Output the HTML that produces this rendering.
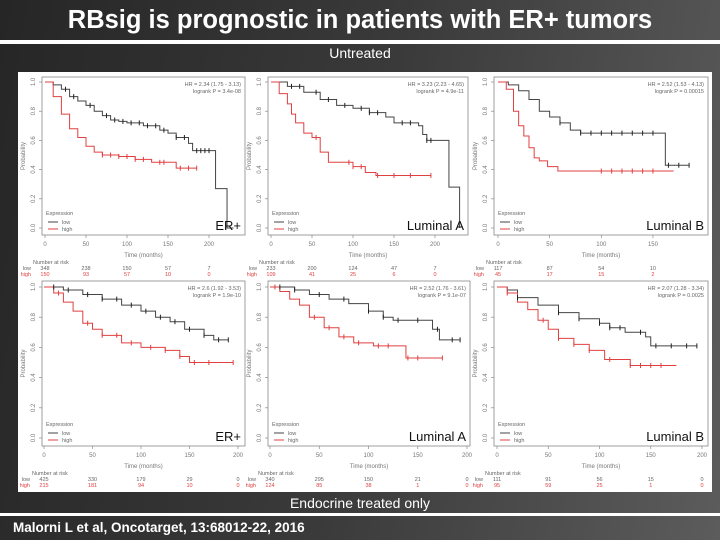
<!DOCTYPE html>
<html><head><meta charset="utf-8"><style>
html,body{margin:0;padding:0;width:720px;height:540px;overflow:hidden}
body{background:linear-gradient(100deg,#262626 0%,#3a3a3a 50%,#5c5c5c 100%);font-family:"Liberation Sans",sans-serif}
svg{position:absolute;left:0;top:0}
</style></head><body>
<svg id="s" width="720" height="540" xmlns="http://www.w3.org/2000/svg">
<text x="360" y="28" text-anchor="middle" fill="#fff" font-size="25.5" font-weight="bold">RBsig is prognostic in patients with ER+ tumors</text>
<rect x="0" y="40" width="720" height="4" fill="#fff"/>
<text x="360" y="58" text-anchor="middle" fill="#fff" font-size="14">Untreated</text>
<rect x="18" y="72" width="694" height="420" fill="#fff"/>
<text x="360" y="508" text-anchor="middle" fill="#fff" font-size="14">Endocrine treated only</text>
<rect x="0" y="513" width="720" height="3" fill="#fff"/>
<text x="13" y="532" fill="#fff" font-size="13.5" font-weight="bold" font-family="Liberation Sans Narrow, Liberation Sans, sans-serif">Malorni L et al, Oncotarget, 13:68012-22, 2016</text>
<g id="plots"></g>
</svg>
<script>
const panelNames=["ER+","Luminal A","Luminal B","ER+","Luminal A","Luminal B"];
const hrText=["HR = 2.34 (1.75 - 3.13)","HR = 3.23 (2.23 - 4.65)","HR = 2.52 (1.53 - 4.13)","HR = 2.6 (1.92 - 3.53)","HR = 2.52 (1.76 - 3.61)","HR = 2.07 (1.28 - 3.34)"];
const pText=["logrank P = 3.4e-08","logrank P = 4.9e-11","logrank P = 0.00015","logrank P = 1.9e-10","logrank P = 9.1e-07","logrank P = 0.0025"];
const xTicks=[[0,50,100,150,200],[0,50,100,150,200],[0,50,100,150],[0,50,100,150,200],[0,50,100,150,200],[0,50,100,150,200]];
const yTicks=[0,0.2,0.4,0.6,0.8,1.0];
const riskLow=[["348","238","150","57","7"],["233","200","124","47","7"],["117","87","54","10"],["425","330","179","29","0"],["340","295","150","21","0"],["111","91","56","15","0"]];
const riskHigh=[["150","93","57","10","0"],["109","41","25","6","0"],["45","17","15","2"],["215","181","94","10","0"],["124","85","38","1","0"],["95","59","25","1","0"]];
const lowT=[[0,10,20,30,40,50,60,70,80,90,100,120,140,150,160,175,180,208,222,230],[0,20,40,60,80,100,120,140,150,180,185,190,217,230],[0,10,20,30,40,50,60,70,80,162,185],[0,20,40,60,80,100,115,130,145,165,175,190],[0,25,40,60,80,100,115,125,165,172,193],[0,10,20,40,60,80,100,110,125,145,150,195]];
const lowS=[[1,0.98,0.95,0.9,0.87,0.84,0.8,0.77,0.74,0.73,0.72,0.7,0.67,0.65,0.62,0.58,0.53,0.27,0,0],[1,0.97,0.93,0.88,0.84,0.82,0.79,0.76,0.72,0.7,0.64,0.6,0.28,0],[1,0.98,0.94,0.88,0.8,0.76,0.72,0.67,0.65,0.43,0.43],[1,0.98,0.95,0.92,0.88,0.84,0.8,0.77,0.72,0.68,0.65,0.65],[1,0.98,0.95,0.92,0.89,0.84,0.8,0.78,0.72,0.65,0.65],[1,0.98,0.93,0.88,0.83,0.79,0.76,0.73,0.7,0.67,0.61,0.61]];
const highT=[[0,10,20,30,40,50,60,70,90,110,130,160,185],[0,10,20,25,30,40,50,60,70,90,100,115,128,195],[0,8,15,20,25,30,35,40,48,58,170],[0,10,20,30,40,50,60,80,100,125,140,150,195],[0,10,20,30,40,55,70,85,105,138,175],[0,10,20,30,40,50,60,75,90,105,130,175]];
const highS=[[1,0.9,0.78,0.68,0.62,0.56,0.52,0.5,0.49,0.47,0.45,0.41,0.41],[1,0.92,0.85,0.78,0.72,0.65,0.62,0.52,0.45,0.45,0.42,0.38,0.36,0.36],[1,0.95,0.8,0.7,0.63,0.55,0.48,0.46,0.42,0.39,0.39],[1,0.96,0.9,0.84,0.76,0.72,0.68,0.63,0.6,0.58,0.54,0.5,0.5],[1,0.97,0.92,0.88,0.8,0.73,0.67,0.63,0.61,0.53,0.53],[1,0.96,0.9,0.85,0.78,0.72,0.66,0.62,0.58,0.52,0.48,0.48]];
const lowCens=[[25,35,55,75,85,95,105,115,125,135,145,160,170,185,190,195,200],[25,35,55,70,90,110,120,130,160,170,190,195],[60,80,90,100,110,120,130,140,150,165,175,185],[10,25,45,60,75,90,105,120,135,150,165,180,190],[10,25,50,75,100,115,130,150,170,185,193],[20,60,80,100,110,120,140,155,170,185,195]];
const highCens=[[70,80,90,100,110,120,140,145,165,175,185],[55,95,100,110,130,150,170,195],[100,110,120,130,140,150],[15,45,60,75,90,110,125,140,155,170,195],[5,45,60,75,90,110,120,140,150,175],[10,45,60,75,90,110,130,140,150,160]];
const G=[
 {bx:42,by:77,bw:203,bh:158,t0:45,k:0.82,y1:82,y0:228},
 {bx:268,by:77,bw:200,bh:158,t0:271,k:0.82,y1:82,y0:228},
 {bx:494,by:77,bw:214,bh:158,t0:498,k:1.033,y1:82,y0:228},
 {bx:42,by:281,bw:203,bh:165,t0:44,k:0.97,y1:287,y0:438},
 {bx:268,by:281,bw:202,bh:165,t0:270,k:0.985,y1:287,y0:438},
 {bx:494,by:281,bw:214,bh:165,t0:497,k:1.025,y1:287,y0:438}];
const NS="http://www.w3.org/2000/svg";
const root=document.getElementById('plots');
function mk(tag,at,parent,txt){const e=document.createElementNS(NS,tag);for(const a in at)e.setAttribute(a,at[a]);if(txt!==undefined)e.textContent=txt;parent.appendChild(e);return e;}
function stepPath(T,S,xs,ys){let d='M'+xs(T[0])+','+ys(S[0]);for(let i=1;i<T.length;i++){d+='H'+xs(T[i])+'V'+ys(S[i]);}return d;}
function survAt(T,S,t){let v=S[0];for(let i=0;i<T.length;i++){if(T[i]<=t)v=S[i];}return v;}
for(let p=0;p<6;p++){
 const g=G[p];
 const xs=t=>g.t0+t*g.k, ys=s=>g.y0-(g.y0-g.y1)*s;
 const grp=mk('g',{},root);
 
 
 const box=mk('rect',{x:g.bx,y:g.by,width:g.bw,height:g.bh,fill:'none',stroke:'#888','stroke-width':0.8},grp);
 
 
 const bottom=g.by+g.bh;
 xTicks[p].forEach(t=>{
  mk('line',{x1:xs(t),x2:xs(t),y1:bottom,y2:bottom+3,stroke:'#888','stroke-width':0.7},grp);
  const tl=mk('text',{x:xs(t),y:bottom+11,'text-anchor':'middle','font-size':6,fill:'#777'},grp,String(t));
  
  
 });
 yTicks.forEach(v=>{
  mk('line',{x1:g.bx,x2:g.bx-3,y1:ys(v),y2:ys(v),stroke:'#888','stroke-width':0.7},grp);
  const yl=mk('text',{x:g.bx-7,y:ys(v),'text-anchor':'middle','font-size':6,fill:'#777',transform:`rotate(-90 ${g.bx-7} ${ys(v)})`},grp,v.toFixed(1));
  
  
 });
 const yt=mk('text',{x:g.bx-17,y:g.by+g.bh/2,'text-anchor':'middle','font-size':6,fill:'#777',transform:`rotate(-90 ${g.bx-17} ${g.by+g.bh/2})`},grp,'Probability');
 
 
 const xt=mk('text',{x:g.bx+g.bw/2,y:bottom+22,'text-anchor':'middle','font-size':6,fill:'#777'},grp,'Time (months)');
 
 
 const lc=mk('path',{d:stepPath(lowT[p],lowS[p],xs,ys),fill:'none',stroke:'#444','stroke-width':1},grp);
 
 
 const hc=mk('path',{d:stepPath(highT[p],highS[p],xs,ys),fill:'none',stroke:'#e04040','stroke-width':1},grp);
 
 
 lowCens[p].forEach(t=>{const y=ys(survAt(lowT[p],lowS[p],t));const c=mk('line',{x1:xs(t),x2:xs(t),y1:y-2.5,y2:y+2.5,stroke:'#222','stroke-width':1},grp);
  
  });
 highCens[p].forEach(t=>{const y=ys(survAt(highT[p],highS[p],t));const c=mk('line',{x1:xs(t),x2:xs(t),y1:y-2.5,y2:y+2.5,stroke:'#e04040','stroke-width':1},grp);
  
  });
 const hr=mk('text',{x:g.bx+g.bw-4,y:g.by+9,'text-anchor':'end','font-size':5.5,fill:'#666'},grp,hrText[p]);
 
 
 const pv=mk('text',{x:g.bx+g.bw-4,y:g.by+16,'text-anchor':'end','font-size':5.5,fill:'#666'},grp,pText[p]);
 
 
 const lg=mk('g',{},grp);
 
 
 mk('text',{x:g.bx+4,y:bottom-20,'font-size':5.5,fill:'#666'},lg,'Expression');
 mk('line',{x1:g.bx+6,x2:g.bx+16,y1:bottom-13,y2:bottom-13,stroke:'#444','stroke-width':1},lg);
 mk('text',{x:g.bx+20,y:bottom-11,'font-size':5.5,fill:'#666'},lg,'low');
 mk('line',{x1:g.bx+6,x2:g.bx+16,y1:bottom-6,y2:bottom-6,stroke:'#e04040','stroke-width':1},lg);
 mk('text',{x:g.bx+20,y:bottom-4,'font-size':5.5,fill:'#666'},lg,'high');
 const nm=mk('text',{x:g.bx+g.bw-4,y:bottom-5,'text-anchor':'end','font-size':13,fill:'#111'},grp,panelNames[p]);
 
 
 const ry=bottom+29;
 mk('text',{x:xs(0)-12,y:ry,'font-size':5.5,fill:'#666'},grp,'Number at risk');
 mk('text',{x:xs(0)-14,y:ry+6,'text-anchor':'end','font-size':5.5,fill:'#666'},grp,'low');
 mk('text',{x:xs(0)-14,y:ry+12,'text-anchor':'end','font-size':5.5,fill:'#e04040'},grp,'high');
 riskLow[p].forEach((v,i)=>{const r=mk('text',{x:xs(xTicks[p][i]),y:ry+6,'text-anchor':'middle','font-size':5.5,fill:'#666'},grp,v);
  
  });
 riskHigh[p].forEach((v,i)=>{const r=mk('text',{x:xs(xTicks[p][i]),y:ry+12,'text-anchor':'middle','font-size':5.5,fill:'#e04040'},grp,v);
  
  });
}
</script>
</body></html>
